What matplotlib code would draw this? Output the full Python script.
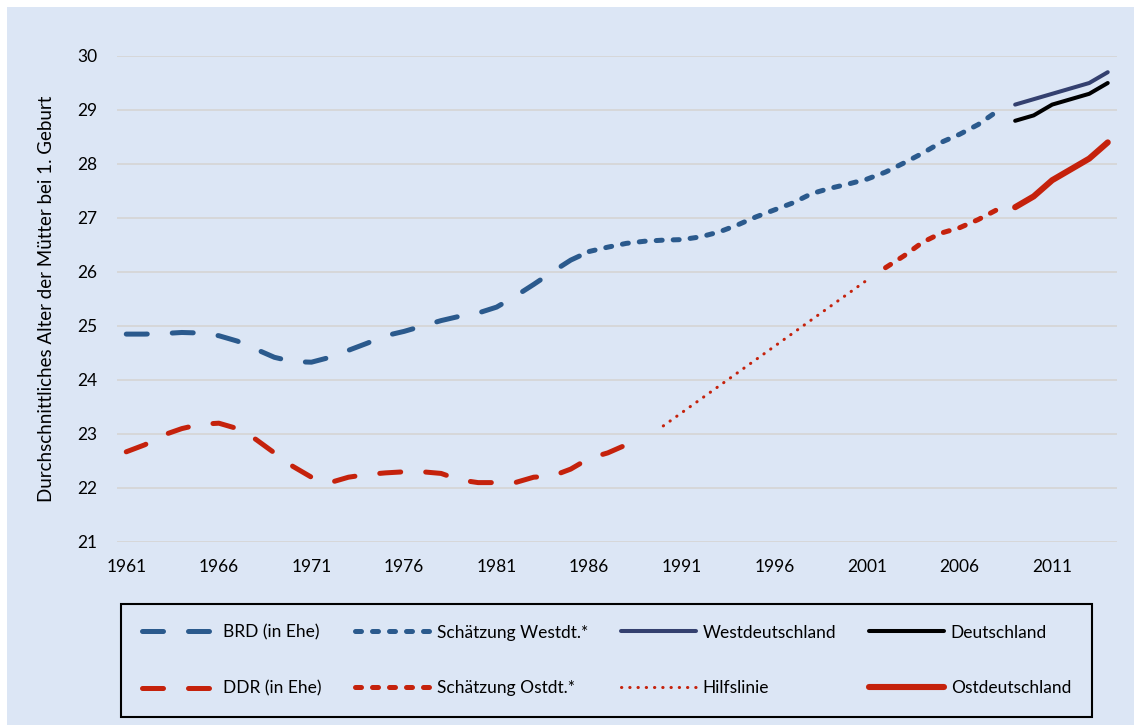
import matplotlib
matplotlib.use("Agg")
import matplotlib.pyplot as plt
from matplotlib.patches import Rectangle
import numpy as np

plt.rcParams["font.family"] = ["Lato", "DejaVu Sans"]

BG = "#DCE6F5"
BLUE = "#2B5A8D"
NAVY = "#34406F"
RED = "#C5220C"

# BRD (in Ehe), 1961-1986
brd_years = np.arange(1961, 1987)
brd_values = [24.85, 24.85, 24.86, 24.88, 24.87, 24.82, 24.72, 24.57, 24.42, 24.34,
              24.33, 24.42, 24.55, 24.68, 24.82, 24.90, 25.00, 25.10, 25.18, 25.24,
              25.35, 25.55, 25.77, 26.00, 26.22, 26.38]

# DDR (in Ehe), 1961-1988
ddr_years = np.arange(1961, 1989)
ddr_values = [22.67, 22.80, 22.98, 23.10, 23.18, 23.20, 23.10, 22.90, 22.65, 22.40,
              22.20, 22.10, 22.20, 22.25, 22.28, 22.30, 22.30, 22.27, 22.15, 22.10,
              22.10, 22.10, 22.20, 22.22, 22.35, 22.55, 22.65, 22.80]

# Schätzung Westdt., 1986-2008
west_est_years = np.arange(1986, 2009)
west_est_values = [26.38, 26.46, 26.53, 26.57, 26.59, 26.60, 26.65, 26.74, 26.87, 27.02,
                   27.15, 27.28, 27.45, 27.55, 27.63, 27.72, 27.85, 28.02, 28.20, 28.40,
                   28.55, 28.73, 28.97]

# Schätzung Ostdt., 2002-2008
east_est_years = np.arange(2002, 2009)
east_est_values = [26.08, 26.30, 26.55, 26.72, 26.82, 26.97, 27.15]

# Hilfslinie
helper_years = [1990, 2001]
helper_values = [23.15, 25.85]

# official figures 2009-2014
recent_years = np.arange(2009, 2015)
west_values = [29.1, 29.2, 29.3, 29.4, 29.5, 29.7]
germany_values = [28.8, 28.9, 29.1, 29.2, 29.3, 29.5]
east_values = [27.2, 27.4, 27.7, 27.9, 28.1, 28.4]

tick_years = np.arange(1961, 2012, 5)

fig = plt.figure(figsize=(11.34, 7.25), dpi=100, facecolor="white")
fig.patches.append(Rectangle((7 / 1134, 0), 1, 1 - 7 / 725, transform=fig.transFigure,
                             facecolor=BG, edgecolor="none", zorder=-10))
ax = fig.add_axes([117 / 1134, 1 - 542 / 725, 1000 / 1134, 486 / 725])
ax.set_facecolor(BG)

long_dash = (4.2, 5.0)
short_dash = (1.2, 2.2)

h_brd, = ax.plot(brd_years, brd_values, color=BLUE, lw=3.6, dashes=long_dash,
                 dash_capstyle="round", label="BRD (in Ehe)")
h_west_est, = ax.plot(west_est_years, west_est_values, color=BLUE, lw=3.6, dashes=short_dash,
                      dash_capstyle="round", label="Schätzung Westdt.*")
h_west, = ax.plot(recent_years, west_values, color=NAVY, lw=2.9, solid_capstyle="round",
                  label="Westdeutschland")
h_de, = ax.plot(recent_years, germany_values, color="black", lw=2.9, solid_capstyle="round",
                label="Deutschland")
h_ddr, = ax.plot(ddr_years, ddr_values, color=RED, lw=3.6, dashes=long_dash,
                 dash_capstyle="round", label="DDR (in Ehe)")
h_east_est, = ax.plot(east_est_years, east_est_values, color=RED, lw=3.6, dashes=short_dash,
                      dash_capstyle="round", label="Schätzung Ostdt.*")
h_help, = ax.plot(helper_years, helper_values, color=RED, lw=2.2, dashes=(0.1, 2.6),
                  dash_capstyle="round", label="Hilfslinie")
h_east, = ax.plot(recent_years, east_values, color=RED, lw=4.4, solid_capstyle="round",
                  label="Ostdeutschland")

ax.set_xlim(1960.5, 2014.5)
ax.set_ylim(21, 30)
ax.set_xticks(tick_years)
ax.set_xticklabels([str(y) for y in tick_years])
ax.set_yticks(np.arange(21, 31))
ax.tick_params(length=0, labelsize=12.5, pad=14)
ax.tick_params(axis="x", pad=12)
ax.grid(axis="y", color="#D6D6D6", lw=1.3)
ax.set_axisbelow(True)
for s in ax.spines.values():
    s.set_visible(False)
ax.set_ylabel("Durchschnittliches Alter der Mütter bei 1. Geburt", fontsize=13.5, labelpad=16)

# legend fills column by column -> interleave the two rows
order = [h_brd, h_ddr, h_west_est, h_east_est, h_west, h_help, h_de, h_east]
leg = fig.legend(order, [h.get_label() for h in order], ncol=4, mode="expand",
                 bbox_to_anchor=(121 / 1134, 9 / 725, 971 / 1134, 111 / 725),
                 loc="center", fontsize=12.5, handlelength=4.3, handletextpad=0.4,
                 labelspacing=2.3, borderpad=1.2, borderaxespad=0, fancybox=False,
                 frameon=True, edgecolor="black", facecolor=BG, framealpha=1)
leg.get_frame().set_linewidth(1.5)

fig.savefig("out.png", dpi=100, facecolor="white")
